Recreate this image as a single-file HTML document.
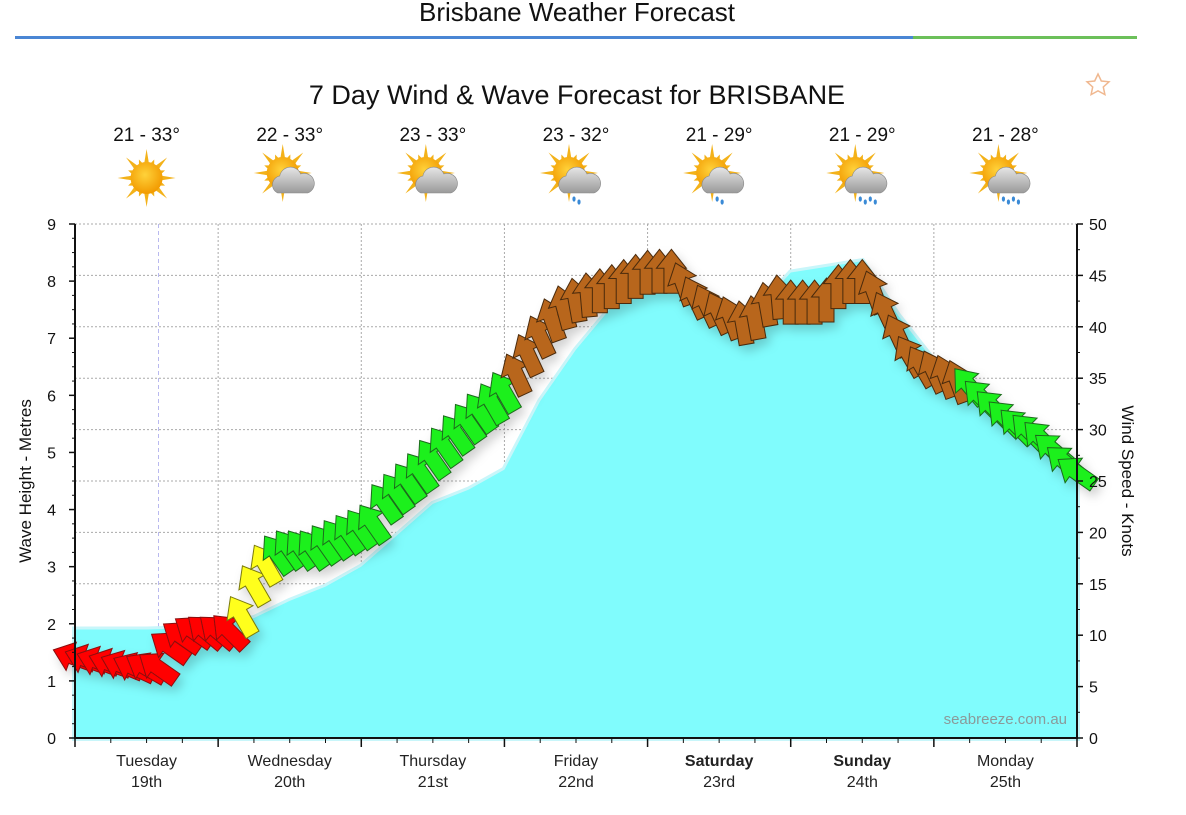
<!DOCTYPE html>
<html><head><meta charset="utf-8">
<style>
html,body{margin:0;padding:0;background:#fff;width:1186px;height:815px;overflow:hidden;font-family:"Liberation Sans",sans-serif;}
svg text{font-family:"Liberation Sans","DejaVu Sans",sans-serif;}
</style></head>
<body>
<svg id="chart" width="1186" height="815" viewBox="0 0 1186 815" xmlns="http://www.w3.org/2000/svg">
<defs>
<radialGradient id="sunG" cx="0.45" cy="0.4" r="0.6"><stop offset="0" stop-color="#ffd23a"/><stop offset="1" stop-color="#f29a00"/></radialGradient>
<linearGradient id="cloudG" x1="0" y1="0" x2="0" y2="1"><stop offset="0" stop-color="#e6e6e6"/><stop offset="1" stop-color="#9a9a9a"/></linearGradient>
<filter id="shadow" x="-20%" y="-20%" width="140%" height="140%"><feDropShadow dx="4" dy="6" stdDeviation="5" flood-color="#000" flood-opacity="0.18"/></filter>
</defs>
<text x="577" y="21" text-anchor="middle" font-size="26" fill="#111">Brisbane Weather Forecast</text>
<rect x="15" y="36" width="898" height="3" fill="#4a86d4"/>
<rect x="913" y="36" width="224" height="3" fill="#6cc05a"/>
<text x="577" y="104" text-anchor="middle" font-size="27" fill="#111">7 Day Wind &amp; Wave Forecast for BRISBANE</text>
<polygon points="1098,74 1101.3,81 1109,81.8 1103.3,87 1104.9,94.6 1098,90.8 1091.1,94.6 1092.7,87 1087,81.8 1094.7,81" fill="none" stroke="#f0b890" stroke-width="1.5"/>
<g id="topg"></g>
<g id="grid"></g>
<g id="wave"></g>
<g id="arrows" filter="url(#shadow)"></g>
<g id="axes"></g>
<text x="1067" y="724" text-anchor="end" font-size="15" fill="#8a9a9a">seabreeze.com.au</text>
<text transform="translate(31,481) rotate(-90)" text-anchor="middle" font-size="17" fill="#111">Wave Height - Metres</text>
<text transform="translate(1122,481) rotate(90)" text-anchor="middle" font-size="17" fill="#111">Wind Speed - Knots</text>
</svg>
<script>
const dayNames = ["Tuesday","Wednesday","Thursday","Friday","Saturday","Sunday","Monday"];
const dayDates = ["19th","20th","21st","22nd","23rd","24th","25th"];
const dayBold = [false,false,false,false,true,true,false];
const temps = ["21 - 33°","22 - 33°","23 - 33°","23 - 32°","21 - 29°","21 - 29°","21 - 28°"];
const iconTypes = ["sun","cloud","cloud","rain","rain","rain2","rain2"];
const waveHeightTicks = [0,1,2,3,4,5,6,7,8,9];
const windTicks = [0,5,10,15,20,25,30,35,40,45,50];
// wave height every 6 hours (metres)
const waveHeights = [1.9,1.9,1.9,1.92,1.97,2.1,2.4,2.65,3.0,3.55,4.1,4.35,4.7,5.9,6.8,7.55,7.95,7.9,7.6,7.45,8.15,8.25,8.35,7.4,6.6,6.15,5.7,5.2,4.6];
// wind every 2 hours (knots)
const windSpeeds = [8,7.8,7.6,7.4,7.2,7,7,7,9,10,10.5,10.5,10.5,10.5,12,15,17,18,18.5,18.5,18.5,19,19.5,20,20.5,21,23,24,25,26,27.3,28.5,29.7,30.8,31.8,32.7,33.8,35.5,37.4,39.2,40.8,42,42.7,43.2,43.6,44,44.5,45,45.4,45.5,45.5,44.3,43,42.2,41.5,41,40.5,41,42.3,43,42.5,42.5,42.5,42.7,44,44.5,44.5,43.5,41.5,39.3,37.3,36.3,35.8,35.3,34.8,34.4,33.3,32.3,31.3,30.5,30,29.3,28.2,27,26];
// wind direction the arrow points (degrees clockwise from up)
const windDirs = [-70,-70,-70,-70,-68,-65,-60,-55,-55,-55,-55,-50,-50,-45,-30,-30,-30,-35,-35,-35,-35,-35,-35,-35,-35,-35,-35,-35,-35,-35,-35,-35,-35,-35,-35,-30,-30,-25,-25,-25,-20,-15,-10,-5,0,0,0,0,0,0,0,-20,-25,-25,-25,-20,-10,-10,-10,-5,0,0,0,0,0,0,0,-20,-25,-25,-30,-30,-25,-20,-20,-40,-45,-45,-45,-45,-45,-45,-50,-50,-55];

const NS="http://www.w3.org/2000/svg";
const X0=75,X1=1077,Y0=738,Y1=224,HOURS=168;
const xT=h=>X0+(X1-X0)*h/HOURS;
const yW=m=>Y0-(Y0-Y1)*m/9;
const yK=k=>Y0-(Y0-Y1)*k/50;
function mk(tag,attrs,parent){const e=document.createElementNS(NS,tag);for(const k in attrs)e.setAttribute(k,attrs[k]);parent.appendChild(e);return e;}
const topG=document.getElementById('topg'),grid=document.getElementById('grid'),wave=document.getElementById('wave'),arrows=document.getElementById('arrows'),axes=document.getElementById('axes');

function icon(cx,cy,type,g){
  const sg=mk('g',{},g);
  const sx=type==="sun"?cx:cx-7, sy=type==="sun"?cy:cy-5;
  for(let i=0;i<16;i++){const a=i*Math.PI/8,l=i%2?20:29;
    mk('polygon',{points:`${sx+Math.cos(a)*l},${sy+Math.sin(a)*l} ${sx+Math.cos(a+0.18)*14},${sy+Math.sin(a+0.18)*14} ${sx+Math.cos(a-0.18)*14},${sy+Math.sin(a-0.18)*14}`,fill:"#f3b21a"},sg);}
  mk('circle',{cx:sx,cy:sy,r:16,fill:"url(#sunG)"},sg);
  if(type!=="sun"){
    mk('path',{d:`M${cx-12},${cy+15} a9,9 0 0,1 2,-17 a11,11 0 0,1 21,-2 a9,9 0 0,1 7,19 z`,fill:"url(#cloudG)",stroke:"#888","stroke-width":0.6},sg);
  }
  if(type==="rain"||type==="rain2"){
    const n=type==="rain2"?4:2;
    for(let i=0;i<n;i++) mk('ellipse',{cx:cx-2+i*5,cy:cy+21+(i%2)*3,rx:1.6,ry:2.6,fill:"#3a8ad6"},sg);
  }
}
for(let d=0;d<7;d++){
  const cx=xT(d*24+12);
  const t=mk('text',{x:cx,y:141,"text-anchor":"middle","font-size":19,fill:"#111"},topG);
  
  
  t.textContent=temps[d];
  const ig=mk('g',{},topG);
  
  
  icon(cx,178,iconTypes[d],ig);
}

windTicks.forEach(k=>{ if(k===0) return;
  const l=mk('line',{x1:X0,x2:X1,y1:yK(k),y2:yK(k),stroke:"#aaa","stroke-dasharray":"2,2","stroke-width":1},grid);
  
  
});
for(let d=1;d<7;d++){
  const l=mk('line',{x1:xT(d*24),x2:xT(d*24),y1:Y1,y2:Y0,stroke:"#aaa","stroke-dasharray":"2,2"},grid);
  
  
}
const nowL=mk('line',{x1:xT(14),x2:xT(14),y1:Y1,y2:Y0,stroke:"#b9b9ef","stroke-dasharray":"4,3"},grid);



let d=`M${X0},${Y0}`;
waveHeights.forEach((m,i)=>{d+=` L${xT(i*6)},${yW(m)}`;});
d+=` L${X1},${Y0} Z`;
const wl=mk('path',{d,fill:"none",stroke:"#c8f6fa","stroke-width":6},wave);


const wa=mk('path',{d,fill:"#80fcfd"},wave);



function col(k){ if(k<12) return ["#ff0000","#8a1010"]; if(k<17.5) return ["#ffff1a","#7a7a10"]; if(k<34.6) return ["#1ef01e","#1c6a1c"]; return ["#b8661c","#4a2a0a"]; }
windSpeeds.forEach((k,i)=>{
  const [f,s]=col(k);
  const p=mk('polygon',{points:"0,-23 15,-4 7.5,-4 7.5,21 -7.5,21 -7.5,-4 -15,-4",fill:f,stroke:s,"stroke-width":1,
    transform:`translate(${xT(i*2)},${yK(k)+2}) rotate(${windDirs[i]})`},arrows);
  
  
});

mk('line',{x1:X0,x2:X0,y1:Y1,y2:Y0+1,stroke:"#111","stroke-width":2},axes);
mk('line',{x1:X1,x2:X1,y1:Y1,y2:Y0+1,stroke:"#111","stroke-width":2},axes);
mk('line',{x1:X0-1,x2:X1+1,y1:Y0,y2:Y0,stroke:"#111","stroke-width":2},axes);
waveHeightTicks.forEach(m=>{
  mk('line',{x1:X0-6,x2:X0,y1:yW(m),y2:yW(m),stroke:"#111","stroke-width":1.5},axes);
  if(m<9) for(let j=1;j<4;j++) mk('line',{x1:X0-3,x2:X0,y1:yW(m+j/4),y2:yW(m+j/4),stroke:"#111"},axes);
  const t=mk('text',{x:56,y:yW(m)+6,"text-anchor":"end","font-size":16,fill:"#111"},axes);
  
  
  t.textContent=m;
});
windTicks.forEach(k=>{
  mk('line',{x1:X1,x2:X1+6,y1:yK(k),y2:yK(k),stroke:"#111","stroke-width":1.5},axes);
  if(k<50) mk('line',{x1:X1,x2:X1+3,y1:yK(k+2.5),y2:yK(k+2.5),stroke:"#111"},axes);
  const t=mk('text',{x:1089,y:yK(k)+6,"font-size":16,fill:"#111"},axes);
  
  
  t.textContent=k;
});
for(let h=0;h<=HOURS;h+=6){
  mk('line',{x1:xT(h),x2:xT(h),y1:Y0,y2:Y0+(h%24?5:9),stroke:"#111","stroke-width":h%24?1:1.5},axes);
}
for(let i=0;i<7;i++){
  const cx=xT(i*24+12);
  const t1=mk('text',{x:cx,y:766,"text-anchor":"middle","font-size":16,fill:"#222","font-weight":dayBold[i]?"bold":"normal"},axes);
  
  
  t1.textContent=dayNames[i];
  const t2=mk('text',{x:cx,y:787,"text-anchor":"middle","font-size":16,fill:"#222"},axes);
  
  
  t2.textContent=dayDates[i];
}
</script>
</body></html>
